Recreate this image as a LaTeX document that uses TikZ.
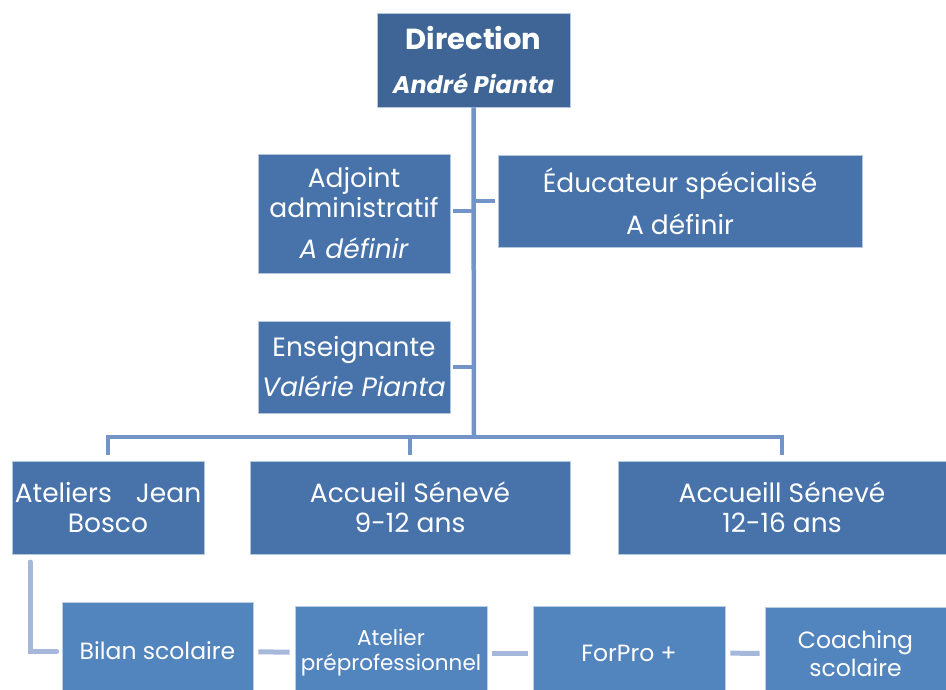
\documentclass[tikz,border=0pt]{standalone}
\usepackage{fontspec}
\setmainfont{Poppins}
\usetikzlibrary{positioning}

\definecolor{dirblue}{HTML}{3E6596}
\definecolor{boxblue}{HTML}{4773AA}
\definecolor{lowblue}{HTML}{5284BE}
\definecolor{linkblue}{HTML}{7394C8}
\definecolor{lowlink}{HTML}{A5B8D9}

\begin{document}
\begin{tikzpicture}[x=1pt,y=-1pt,
	unit/.style={draw=white!60!boxblue,line width=0.8pt,fill=boxblue,text=white,align=center,inner sep=0pt,font=\fontsize{26.5}{30}\selectfont},
	head/.style={unit,fill=dirblue},
	task/.style={unit,fill=lowblue,draw=white!60!lowblue,font=\fontsize{23.5}{28}\selectfont},
	link/.style={draw=linkblue,line width=4.5pt,shorten >=3pt},
	sublink/.style={draw=lowlink,line width=5pt,shorten >=5pt,shorten <=5pt}]
	\useasboundingbox (0,0) rectangle (946,690);
	% top
	\node[head,minimum width=193pt,minimum height=94pt] (dir) at (473.5,60)
		{\fontsize{29}{32}\selectfont\bfseries Direction\\[14pt]\fontsize{24}{26}\selectfont\bfseries\itshape André Pianta};
	\node[unit,minimum width=192pt,minimum height=119pt] (adj) at (354,213.5)
		{Adjoint\\administratif\\[11pt]\itshape A définir};
	\node[unit,minimum width=364pt,minimum height=92pt] (edu) at (680,201)
		{Éducateur spécialisé\\[12pt]A définir};
	\node[unit,minimum width=192pt,minimum height=92pt] (ens) at (354,367)
		{Enseignante\\[10pt]\itshape Valérie Pianta};
	% services
	\node[unit,minimum width=192pt,minimum height=93pt] (ajb) at (108,507.5)
		{Ateliers\hspace{24pt}Jean\\Bosco};
	\node[unit,minimum width=320pt,minimum height=93pt] (as9) at (410,507.5)
		{Accueil Sénevé\\9-12 ans};
	\node[unit,minimum width=328pt,minimum height=93pt] (as12) at (782,507.5)
		{Accueill Sénevé\\12-16 ans};
	% ateliers
	\node[task,minimum width=191pt,minimum height=98pt] (bil) at (157.5,651)
		{Bilan scolaire};
	\node[task,minimum width=192pt,minimum height=94pt,font=\fontsize{21.5}{25}\selectfont] (pre) at (391,653)
		{Atelier\\préprofessionnel};
	\node[task,minimum width=192pt,minimum height=94pt] (fpr) at (629,653)
		{ForPro +};
	\node[task,minimum width=181pt,minimum height=93pt] (coa) at (855.5,653.5)
		{Coaching\\scolaire};

	\coordinate (bus) at (474,437);
	\coordinate (ajbout) at (30,562);
	\draw[link,shorten >=0pt] (dir.south) -- (bus);
	\draw[link] (474,211) -- (adj.east |- 0,211);
	\draw[link] (474,201) -- (edu.west);
	\draw[link] (474,367) -- (ens.east);
	\draw[link,shorten >=6pt] (bus) -| (ajb);
	\draw[link,shorten >=6pt] (bus) -| (as9);
	\draw[link,shorten >=6pt] (bus) -| (as12);
	\draw[sublink,line cap=round,shorten <=0pt] (ajbout) |- (bil.west);
	\draw[sublink] (bil) -- (pre);
	\draw[sublink] (pre) -- (fpr);
	\draw[sublink] (fpr) -- (coa);
\end{tikzpicture}
\end{document}
